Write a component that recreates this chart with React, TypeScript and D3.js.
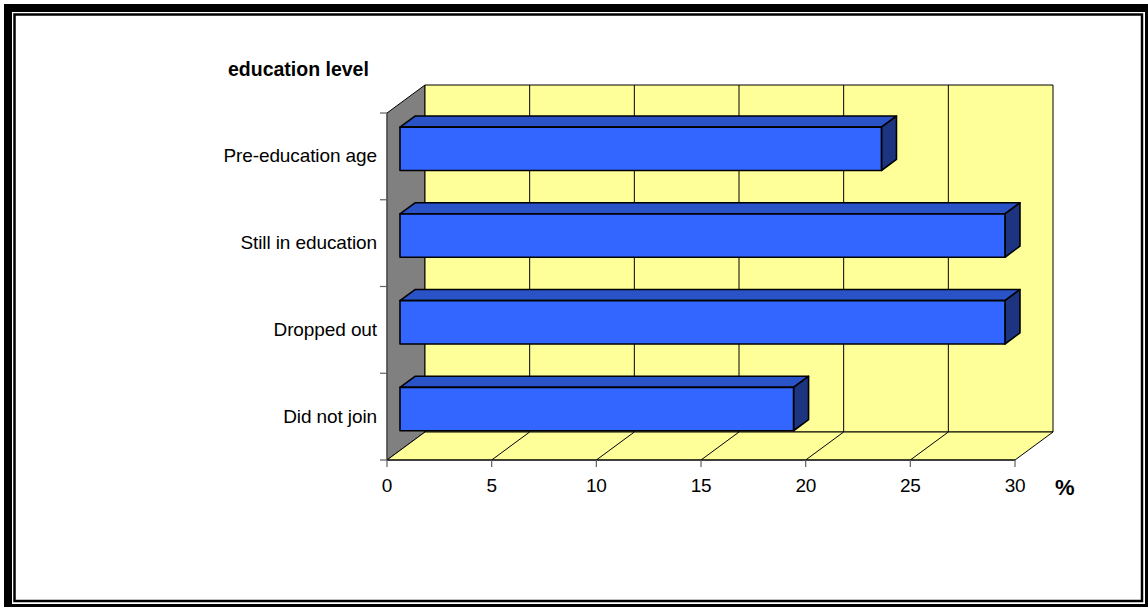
import React from "react";
import * as d3 from "d3";

const categories = ["Pre-education age", "Still in education", "Dropped out", "Did not join"];
const values = [23.0, 28.9, 28.9, 18.8];
const xTicks = [0, 5, 10, 15, 20, 25, 30];
const yAxisTitle = "education level";
const xAxisUnit = "%";

const W = 1148;
const H = 607;
const DX = 38;
const DY = -28;
const FONT = "'Liberation Sans', Arial, sans-serif";

export default function App() {
  const x = d3.scaleLinear().domain([0, 30]).range([387, 1015]);
  const y = d3.scaleBand<string>().domain(categories).range([113, 460]);
  const proj = (px: number, py: number, d: number): [number, number] => [px + DX * d, py + DY * d];
  const pts = (arr: [number, number][]) => arr.map((p) => p.join(",")).join(" ");

  const yTop = 113, yBot = 460;
  const x0 = x(0), x1 = x(30);

  const dF = 0.342;
  const dB = 0.737;
  const bw = y.bandwidth();

  return (
    <svg width={W} height={H} style={{ position: "absolute", left: 0, top: 0, background: "#fff" }}>
      {/* frame */}
      <rect x={0} y={0} width={W} height={H} fill="#fff" />
      <rect x={8} y={8} width={1141} height={600} fill="none" stroke="#000" strokeWidth={8} />
      <rect x={14.5} y={14.5} width={1127.5} height={586.5} fill="none" stroke="#000" strokeWidth={2.5} />

      {/* left wall */}
      <polygon
        points={pts([proj(x0, yTop, 0), proj(x0, yTop, 1), proj(x0, yBot, 1), proj(x0, yBot, 0)])}
        fill="#808080"
        stroke="#000"
        strokeWidth={1}
      />
      {/* back wall */}
      <polygon
        points={pts([proj(x0, yTop, 1), proj(x1, yTop, 1), proj(x1, yBot, 1), proj(x0, yBot, 1)])}
        fill="#FFFF99"
        stroke="#000"
        strokeWidth={1}
      />
      {/* floor */}
      <polygon
        points={pts([proj(x0, yBot, 0), proj(x1, yBot, 0), proj(x1, yBot, 1), proj(x0, yBot, 1)])}
        fill="#FFFF99"
        stroke="#000"
        strokeWidth={1}
      />
      {/* gridlines */}
      {xTicks.slice(1, -1).map((t) => {
        const a = proj(x(t), yTop, 1);
        const b = proj(x(t), yBot, 1);
        const c = proj(x(t), yBot, 0);
        return (
          <g key={"g" + t}>
            <line x1={a[0]} y1={a[1]} x2={b[0]} y2={b[1]} stroke="#000" strokeWidth={1} />
            <line x1={b[0]} y1={b[1]} x2={c[0]} y2={c[1]} stroke="#000" strokeWidth={1} />
          </g>
        );
      })}

      {/* y axis line and ticks */}
      <line x1={x0} y1={yTop} x2={x0} y2={yBot} stroke="#606060" strokeWidth={1.2} />
      {[...categories.map((c) => y(c) as number), yBot].map((v, i) => (
        <line key={"yt" + i} x1={x0 - 7} y1={v} x2={x0} y2={v} stroke="#606060" strokeWidth={1.2} />
      ))}
      {/* x axis ticks */}
      <line x1={x0} y1={yBot} x2={x1} y2={yBot} stroke="#000" strokeWidth={1} />
      {xTicks.map((t) => (
        <line key={"xt" + t} x1={x(t)} y1={yBot} x2={x(t)} y2={yBot + 7} stroke="#606060" strokeWidth={1.2} />
      ))}

      {/* bars */}
      {categories.map((c, i) => {
        const top = (y(c) as number) + bw * 0.273;
        const bot = top + bw * 0.5;
        const xs = x(0);
        const xe = x(values[i]);
        const fTL = proj(xs, top, dF);
        const fTR = proj(xe, top, dF);
        const fBR = proj(xe, bot, dF);
        const fBL = proj(xs, bot, dF);
        const bTL = proj(xs, top, dB);
        const bTR = proj(xe, top, dB);
        const bBR = proj(xe, bot, dB);
        return (
          <g key={c} stroke="#000" strokeWidth={1.6} strokeLinejoin="round">
            <polygon points={pts([fTL, fTR, bTR, bTL])} fill="#2A53C8" />
            <polygon points={pts([fTR, bTR, bBR, fBR])} fill="#1D3580" />
            <polygon points={pts([fTL, fTR, fBR, fBL])} fill="#3366FF" />
          </g>
        );
      })}

      {/* category labels */}
      {categories.map((c) => (
        <text
          key={"l" + c}
          x={377}
          y={(y(c) as number) + bw / 2 + 6}
          textAnchor="end"
          fontFamily={FONT}
          fontSize={19}
          letterSpacing={-0.1}
          fill="#000"
        >
          {c}
        </text>
      ))}
      {/* x tick labels */}
      {xTicks.map((t) => (
        <text
          key={"xl" + t}
          x={x(t)}
          y={492}
          textAnchor="middle"
          fontFamily={FONT}
          fontSize={19}
          letterSpacing={-0.3}
          fill="#000"
        >
          {t}
        </text>
      ))}
      {/* axis titles */}
      <text x={228} y={76} fontFamily={FONT} fontSize={19.5} fontWeight="bold" letterSpacing={0} fill="#000">
        {yAxisTitle}
      </text>
      <clipPath id="pctClip">
        <rect x={1040} y={470} width={37} height={40} />
      </clipPath>
      <text x={1055} y={495} fontFamily={FONT} fontSize={22} fontWeight="bold" fill="#000" clipPath="url(#pctClip)">
        {xAxisUnit}
      </text>
    </svg>
  );
}
